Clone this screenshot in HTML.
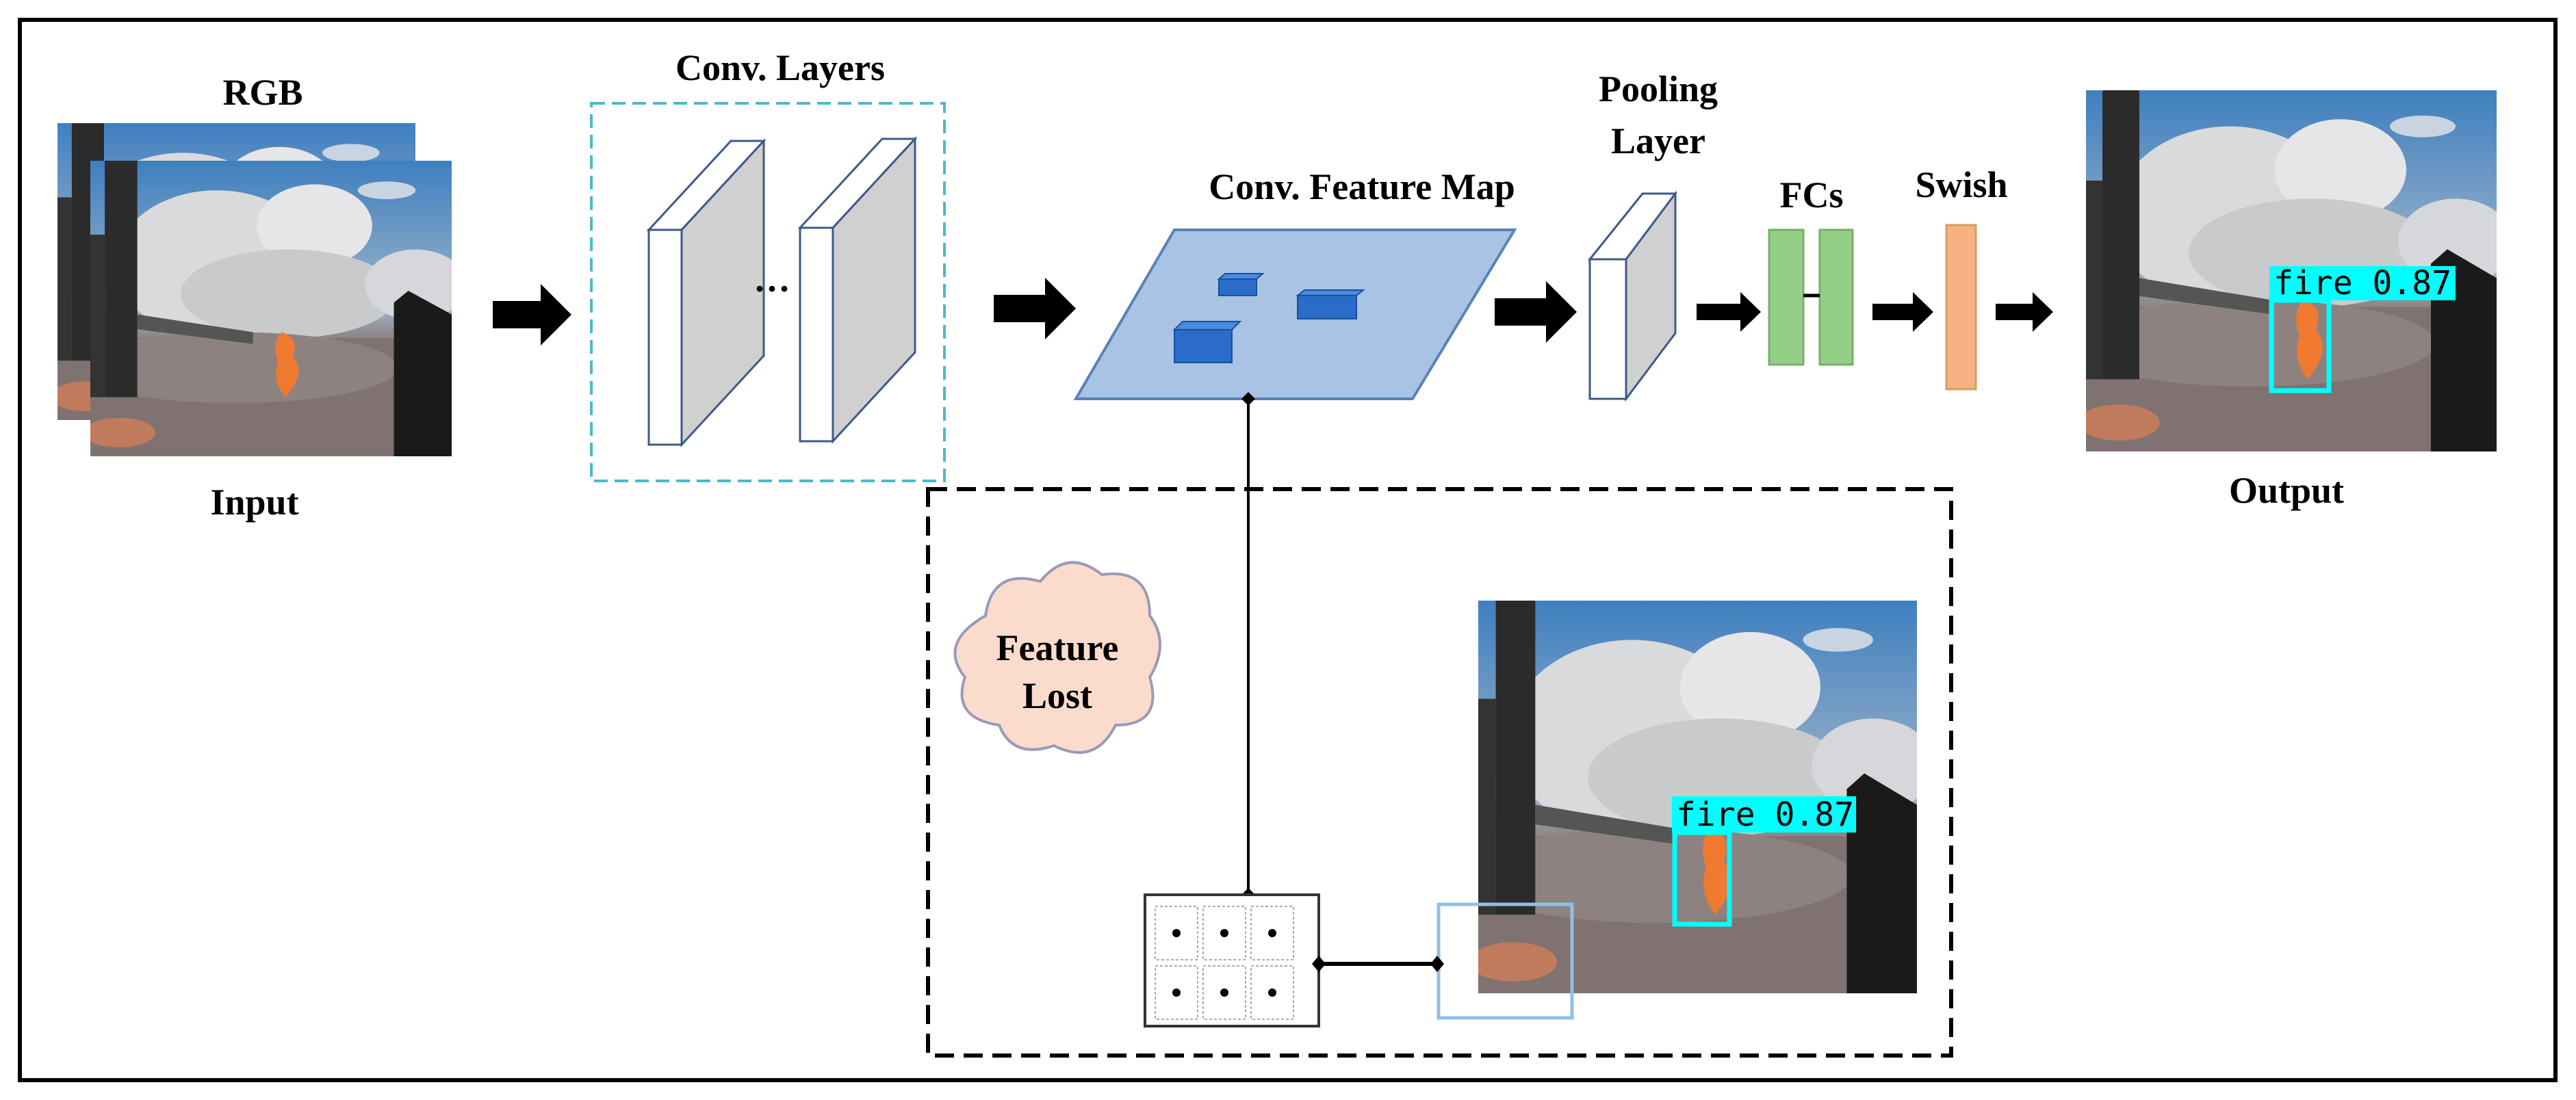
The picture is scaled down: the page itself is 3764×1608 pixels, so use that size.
<!DOCTYPE html>
<html><head><meta charset="utf-8"><style>
html,body{margin:0;padding:0;background:#fff}
svg{display:block}
text{font-family:"Liberation Serif",serif;font-weight:bold;fill:#000}
</style></head><body>
<svg width="3764" height="1608" viewBox="0 0 3764 1608" xmlns="http://www.w3.org/2000/svg">
<defs>
<linearGradient id="sky" x1="0" y1="0" x2="0" y2="1">
<stop offset="0" stop-color="#3f7fc0"/><stop offset="0.5" stop-color="#9fb4c8"/><stop offset="0.6" stop-color="#8d8486"/><stop offset="1" stop-color="#6f6462"/>
</linearGradient>
<symbol id="photo" viewBox="0 0 100 100" preserveAspectRatio="none">
<rect width="100" height="100" fill="url(#sky)"/>
<ellipse cx="35" cy="35" rx="28" ry="25" fill="#d9dadc"/>
<ellipse cx="62" cy="22" rx="16" ry="14" fill="#e6e6e8"/>
<ellipse cx="55" cy="45" rx="30" ry="15" fill="#c9cacc"/>
<ellipse cx="90" cy="42" rx="14" ry="12" fill="#d6d7da"/>
<ellipse cx="82" cy="10" rx="8" ry="3" fill="#c8d4e0"/>
<rect x="0" y="60" width="100" height="40" fill="#7f7270"/>
<ellipse cx="40" cy="70" rx="45" ry="12" fill="#8e8281"/>
<rect x="4" y="0" width="9" height="80" fill="#2b2b2b"/>
<rect x="0" y="25" width="4" height="55" fill="#333"/>
<path d="M13 52 L45 58 L45 62 L13 57Z" fill="#555"/>
<path d="M84 48 L88 44 L100 52 L100 100 L84 100Z" fill="#1a1a1a"/>
<path d="M53 58 Q58 60 56 66 Q60 72 54 80 Q50 74 52 68 Q50 62 53 58Z" fill="#f07a30"/>
<ellipse cx="8" cy="92" rx="10" ry="5" fill="#c07a5c"/>
</symbol>
</defs>
<rect x="29" y="29" width="3705" height="1550" fill="none" stroke="#000" stroke-width="6"/>

<text x="384" y="153" font-size="54" text-anchor="middle">RGB</text>
<use href="#photo" x="84" y="180" width="523" height="434"/>
<use href="#photo" x="132" y="235" width="528" height="432"/>
<text x="372" y="752" font-size="54" text-anchor="middle">Input</text>

<g fill="#000">
<path d="M720 440 H790 V415 L835 460 L790 505 V480 H720Z"/>
<path d="M1452 431 H1527 V406 L1572 451 L1527 496 V471 H1452Z"/>
<path d="M2184 436 H2259 V411 L2304 456 L2259 501 V476 H2184Z"/>
<path d="M2479 444 H2543 V427 L2573 456 L2543 485 V468 H2479Z"/>
<path d="M2736 444 H2795 V427 L2825 456 L2795 485 V468 H2736Z"/>
<path d="M2916 444 H2970 V427 L3000 456 L2970 485 V468 H2916Z"/>
</g>

<text x="1140" y="117" font-size="54" text-anchor="middle">Conv. Layers</text>
<rect x="864" y="151" width="516" height="552" fill="none" stroke="#4fb8c8" stroke-width="4" stroke-dasharray="20 10"/>
<g stroke="#3e5a8a" stroke-width="3">
<polygon points="948,336 1068,206 1116,206 996,336" fill="#fff"/>
<polygon points="996,336 1116,206 1116,520 996,650" fill="#d0d0d0"/>
<rect x="948" y="336" width="48" height="314" fill="#fff"/>
<polygon points="1169,333 1289,203 1337,203 1217,333" fill="#fff"/>
<polygon points="1217,333 1337,203 1337,515 1217,645" fill="#d0d0d0"/>
<rect x="1169" y="333" width="48" height="312" fill="#fff"/>
</g>
<text x="1128" y="440" font-size="54" text-anchor="middle">···</text>

<text x="1990" y="291" font-size="54" text-anchor="middle">Conv. Feature Map</text>
<polygon points="1716,336 2213,336 2064,583 1572,583" fill="#a9c3e4" stroke="#5a82b8" stroke-width="4"/>
<g stroke="#1a4f9a" stroke-width="2">
<rect x="1781" y="408" width="55" height="24" fill="#2a6cc8"/><polygon points="1781,408 1790,400 1845,400 1836,408" fill="#4a8ae0"/>
<rect x="1896" y="432" width="86" height="34" fill="#2a6cc8"/><polygon points="1896,432 1906,424 1992,424 1982,432" fill="#4a8ae0"/>
<rect x="1716" y="482" width="84" height="48" fill="#2a6cc8"/><polygon points="1716,482 1728,470 1812,470 1800,482" fill="#4a8ae0"/>
</g>

<text x="2423" y="148" font-size="54" text-anchor="middle">Pooling</text>
<text x="2423" y="224" font-size="54" text-anchor="middle">Layer</text>
<g stroke="#3e5a8a" stroke-width="3">
<polygon points="2323,379 2400,283 2448,283 2376,379" fill="#fff"/>
<polygon points="2376,379 2448,283 2448,487 2376,583" fill="#d0d0d0"/>
<rect x="2323" y="379" width="53" height="204" fill="#fff"/>
</g>

<text x="2647" y="303" font-size="54" text-anchor="middle">FCs</text>
<rect x="2585" y="336" width="50" height="197" fill="#93cf86" stroke="#76b06a" stroke-width="3"/>
<rect x="2659" y="336" width="48" height="197" fill="#93cf86" stroke="#76b06a" stroke-width="3"/>
<line x1="2635" y1="432" x2="2659" y2="432" stroke="#000" stroke-width="5"/>

<text x="2866" y="288" font-size="54" text-anchor="middle">Swish</text>
<rect x="2844" y="329" width="43" height="240" fill="#f7b183" stroke="#d0a060" stroke-width="3"/>

<use href="#photo" x="3048" y="132" width="600" height="528"/>
<rect x="3319" y="439" width="84" height="132" fill="none" stroke="#00ffff" stroke-width="7"/>
<rect x="3316" y="389" width="272" height="50" fill="#00ffff"/>
<text x="3322" y="430" font-size="48" style="font-family:'DejaVu Sans Mono',monospace;font-weight:normal">fire 0.87</text>
<text x="3341" y="735" font-size="54" text-anchor="middle">Output</text>

<rect x="1356" y="715" width="1495" height="828" fill="none" stroke="#000" stroke-width="6" stroke-dasharray="28 14"/>
<line x1="1824" y1="583" x2="1824" y2="1308" stroke="#000" stroke-width="4"/>
<polygon points="1824,573 1834,583 1824,593 1814,583" fill="#000"/>
<polygon points="1824,1298 1834,1308 1824,1318 1814,1308" fill="#000"/>

<path d="M1440 900 Q1450 830 1520 850 Q1560 800 1610 840 Q1680 830 1680 900 Q1710 940 1680 990 Q1700 1060 1630 1060 Q1600 1120 1540 1090 Q1480 1110 1460 1060 Q1390 1050 1410 990 Q1370 940 1440 900Z" fill="#fbdccc" stroke="#9a9ab8" stroke-width="4"/>
<text x="1545" y="965" font-size="54" text-anchor="middle">Feature</text>
<text x="1545" y="1035" font-size="54" text-anchor="middle">Lost</text>

<use href="#photo" x="2160" y="878" width="641" height="574"/>
<rect x="2447" y="1217" width="80" height="134" fill="none" stroke="#00ffff" stroke-width="7"/>
<rect x="2443" y="1164" width="269" height="53" fill="#00ffff"/>
<text x="2449" y="1207" font-size="48" style="font-family:'DejaVu Sans Mono',monospace;font-weight:normal">fire 0.87</text>
<rect x="2102" y="1322" width="195" height="166" fill="none" stroke="#8fc0e6" stroke-width="5"/>

<rect x="1673" y="1308" width="254" height="192" fill="#fff" stroke="#333" stroke-width="4"/>
<g fill="none" stroke="#aaa" stroke-width="2" stroke-dasharray="4 3">
<rect x="1688" y="1325" width="62" height="78"/><rect x="1758" y="1325" width="62" height="78"/><rect x="1828" y="1325" width="62" height="78"/>
<rect x="1688" y="1412" width="62" height="78"/><rect x="1758" y="1412" width="62" height="78"/><rect x="1828" y="1412" width="62" height="78"/>
</g>
<g fill="#000">
<circle cx="1719" cy="1364" r="6"/><circle cx="1789" cy="1364" r="6"/><circle cx="1859" cy="1364" r="6"/>
<circle cx="1719" cy="1451" r="6"/><circle cx="1789" cy="1451" r="6"/><circle cx="1859" cy="1451" r="6"/>
</g>
<line x1="1927" y1="1409" x2="2100" y2="1409" stroke="#000" stroke-width="6"/>
<polygon points="1927,1397 1937,1409 1927,1421 1917,1409" fill="#000"/>
<polygon points="2100,1397 2110,1409 2100,1421 2090,1409" fill="#000"/>
</svg>
</body></html>
